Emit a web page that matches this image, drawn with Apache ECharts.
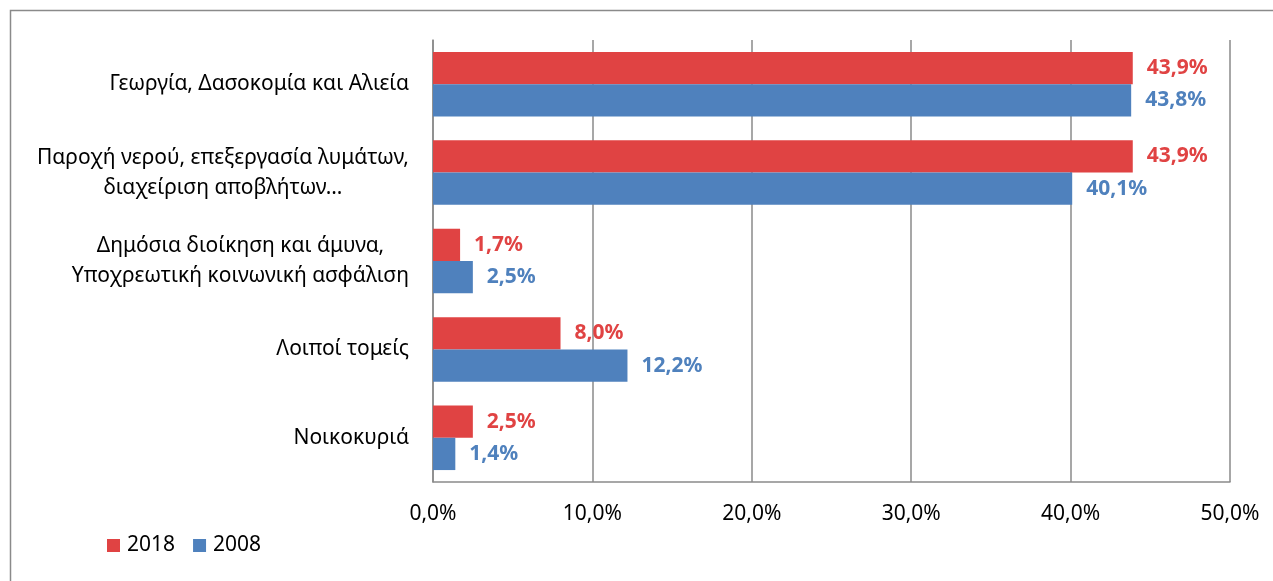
<!DOCTYPE html>
<html>
<head>
<meta charset="utf-8">
<script src="https://cdn.jsdelivr.net/npm/echarts@6/dist/echarts.min.js"></script>
<style>
html,body{margin:0;padding:0;background:#fff;}
#c{width:1273px;height:581px;}
</style>
</head>
<body>
<div id="c"></div>
<script>
const categories = [
  "Γεωργία, Δασοκομία και Αλιεία",
  "Παροχή νερού, επεξεργασία λυμάτων,\nδιαχείριση αποβλήτων…",
  "Δημόσια διοίκηση και άμυνα,\nΥποχρεωτική κοινωνική ασφάλιση",
  "Λοιποί τομείς",
  "Νοικοκυριά"
];
const seriesNames = ["2018", "2008"];
const values2018 = [43.9, 43.9, 1.7, 8.0, 2.5];
const values2008 = [43.8, 40.1, 2.5, 12.2, 1.4];
const xTicks = [0, 10, 20, 30, 40, 50];

const RED = "#E04343";
const BLUE = "#4F81BD";
const FONT = "Noto Sans";

function pct(v) { return v.toFixed(1).replace(".", ",") + "%"; }

const chart = echarts.init(document.getElementById("c"), null, {renderer: "canvas"});
chart.setOption({
  animation: false,
  backgroundColor: "#fff",
  textStyle: {fontFamily: FONT},
  graphic: [{
    type: "rect", left: 8, top: 8, silent: true,
    shape: {width: 1275, height: 585},
    style: {fill: "none", stroke: "#8a8a8a", lineWidth: 1.5}
  }],
  legend: {
    left: 102, top: 530,
    itemWidth: 13, itemHeight: 13, itemGap: 18,
    icon: "rect",
    data: seriesNames,
    textStyle: {fontFamily: FONT, fontSize: 21, color: "#000", padding: [0, 0, 0, 2]}
  },
  grid: {left: 433, right: 43, top: 40, bottom: 99, containLabel: false},
  xAxis: {
    type: "value", min: xTicks[0], max: xTicks[xTicks.length - 1], interval: 10,
    axisLine: {show: true, lineStyle: {color: "#8a8a8a", width: 1.5}},
    axisTick: {show: false},
    splitLine: {show: true, lineStyle: {color: "#8a8a8a", width: 1.5}},
    axisLabel: {
      formatter: v => pct(v), margin: 22,
      fontFamily: FONT, fontSize: 21, color: "#000"
    }
  },
  yAxis: {
    type: "category", data: categories, inverse: true,
    axisLine: {show: true, lineStyle: {color: "#8a8a8a", width: 1.5}},
    axisTick: {show: false},
    axisLabel: {
      margin: 24, fontFamily: FONT, fontSize: 21, color: "#000", lineHeight: 30,
      formatter: function (v) {
        return v.split("\n").map(s => "{c|" + s + "}").join("\n");
      },
      rich: {c: {align: "center", fontFamily: FONT, fontSize: 21, color: "#000", lineHeight: 30}}
    }
  },
  series: [
    {
      name: seriesNames[0], type: "bar", data: values2018,
      itemStyle: {color: RED},
      barGap: "0%", barCategoryGap: "27%",
      label: {show: true, position: "right", distance: 14, formatter: p => pct(p.value),
        fontFamily: FONT, fontSize: 21, fontWeight: "bold", color: RED}
    },
    {
      name: seriesNames[1], type: "bar", data: values2008,
      itemStyle: {color: BLUE},
      barGap: "0%", barCategoryGap: "27%",
      label: {show: true, position: "right", distance: 14, formatter: p => pct(p.value),
        fontFamily: FONT, fontSize: 21, fontWeight: "bold", color: BLUE}
    }
  ]
});
</script>
</body>
</html>
